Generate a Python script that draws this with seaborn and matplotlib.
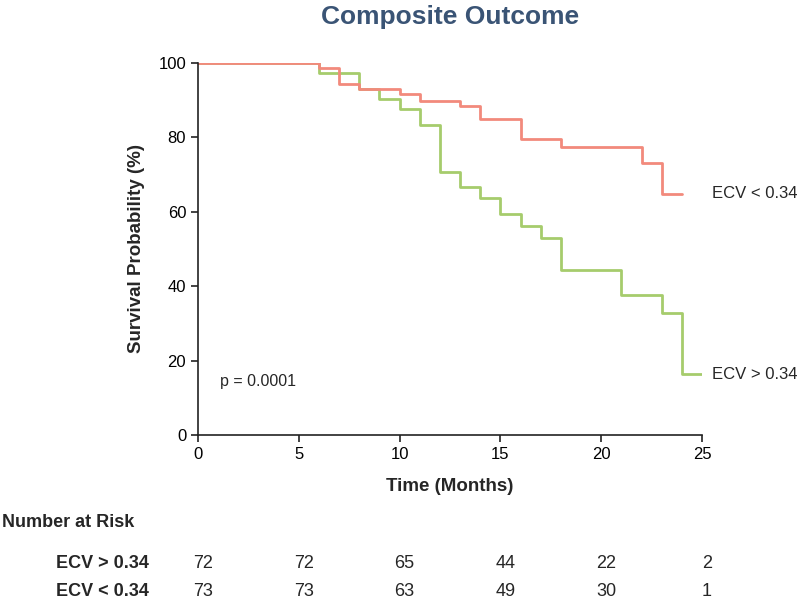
import numpy as np
import matplotlib
matplotlib.use("Agg")
import matplotlib.pyplot as plt
import pandas as pd
import seaborn as sns

# step curves (month, survival %)
low_months = [0, 6, 7, 8, 10, 11, 13, 14, 16, 18, 22, 23, 24]
low_surv = [100, 98.6, 94.4, 92.9, 91.6, 89.9, 88.4, 84.9, 79.6, 77.5, 73.0, 64.8, 64.8]
high_months = [0, 6, 8, 9, 10, 11, 12, 13, 14, 15, 16, 17, 18, 21, 23, 24, 25]
high_surv = [100, 97.2, 92.9, 90.2, 87.5, 83.2, 70.8, 66.6, 63.8, 59.3, 56.3, 52.9, 44.3, 37.6, 32.7, 16.3, 16.3]

risk_times = [0, 5, 10, 15, 20, 25]
risk_high = [72, 72, 65, 44, 22, 2]
risk_low = [73, 73, 63, 49, 30, 1]

red = "#F28A7C"
green = "#A6CC6C"

df = pd.concat([
    pd.DataFrame({"month": high_months, "surv": high_surv, "group": "ECV > 0.34"}),
    pd.DataFrame({"month": low_months, "surv": low_surv, "group": "ECV < 0.34"}),
])

sns.set_style("ticks")
plt.rcParams["font.family"] = ["Liberation Sans", "DejaVu Sans"]

fig = plt.figure(figsize=(8, 6.01), dpi=100)
ax = fig.add_axes([0.2475, 0.2762, 0.63, 0.619])

# green first so the red curve sits on top where they overlap
sns.lineplot(data=df, x="month", y="surv", hue="group", hue_order=["ECV > 0.34", "ECV < 0.34"],
             palette={"ECV < 0.34": red, "ECV > 0.34": green},
             estimator=None, sort=False, drawstyle="steps-post", linewidth=2, legend=False, ax=ax)

ax.set_xlim(0, 25)
ax.set_ylim(0, 100)
ax.set_xticks([0, 5, 10, 15, 20, 25])
ax.set_yticks([0, 20, 40, 60, 80, 100])
sns.despine(ax=ax)
for s in ["left", "bottom"]:
    ax.spines[s].set_linewidth(1.2)
    ax.spines[s].set_color("#222222")
ax.tick_params(labelsize=12, length=5, width=1.2, colors="#222222", labelcolor="black")
ax.set_xlabel("Time (Months)", fontsize=13.5, fontweight="bold", labelpad=12)
ax.set_ylabel("Survival Probability (%)", fontsize=13.5, fontweight="bold", labelpad=10)
ax.set_title("Composite Outcome", fontsize=19, fontweight="bold", color="#3A5475", pad=28)

ax.text(25.5, low_surv[-1], "ECV < 0.34", fontsize=12, va="center", ha="left", clip_on=False)
ax.text(25.5, high_surv[-1], "ECV > 0.34", fontsize=12, va="center", ha="left", clip_on=False)
ax.text(1.1, 14.5, "p = 0.0001", fontsize=11.5, va="center", ha="left")

# number at risk table
fig.text(0.003, 0.131, "Number at Risk", fontsize=13, fontweight="bold", va="center", ha="left")
trans = matplotlib.transforms.blended_transform_factory(ax.transData, fig.transFigure)
for y, lab, vals in [(0.063, "ECV > 0.34", risk_high), (0.015, "ECV < 0.34", risk_low)]:
    fig.text(0.186, y, lab, fontsize=13, fontweight="bold", va="center", ha="right")
    for t, v in zip(risk_times, vals):
        ax.text(t + 0.25, y, str(v), transform=trans, fontsize=13, va="center", ha="center", clip_on=False)

fig.savefig("out.png", dpi=100)
